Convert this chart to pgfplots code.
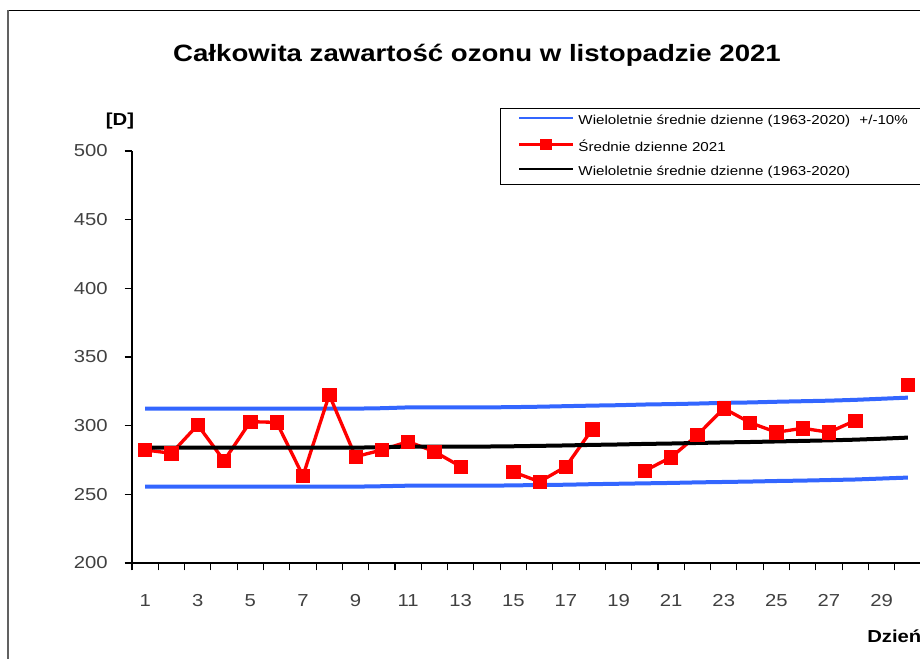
\documentclass[border=0pt]{standalone}
\usepackage{fontspec}
\setmainfont{Liberation Sans}[FakeStretch=1.17]
\usepackage{pgfplots}
\usepackage{pgfplotstable}
\pgfplotsset{compat=1.18}
\definecolor{bandblue}{RGB}{51,102,255}

% long-term daily means (1963-2020) and +/-10% band
\pgfplotstableread{
day mean upper lower
1 284.0 312.4 255.6
2 284.0 312.4 255.6
3 284.0 312.4 255.6
4 284.0 312.4 255.6
5 284.0 312.4 255.6
6 284.0 312.4 255.6
7 284.0 312.4 255.6
8 284.0 312.4 255.6
9 284.0 312.4 255.6
10 284.3 312.7 255.9
11 284.8 313.3 256.3
12 284.8 313.3 256.3
13 284.8 313.3 256.3
14 284.8 313.3 256.3
15 285.0 313.5 256.5
16 285.3 313.8 256.8
17 285.6 314.2 257.0
18 286.0 314.6 257.4
19 286.3 314.9 257.7
20 286.7 315.4 258.0
21 287.0 315.7 258.3
22 287.4 316.1 258.7
23 287.8 316.6 259.0
24 288.1 316.9 259.3
25 288.5 317.4 259.7
26 288.9 317.8 260.0
27 289.3 318.2 260.4
28 289.8 318.8 260.8
29 290.5 319.6 261.5
30 291.3 320.4 262.2
}\longterm

% daily means, November 2021
\pgfplotstableread{
day val
1 282.3
2 279.9
3 300.5
4 274.5
5 302.9
6 302.4
7 263.4
8 322.4
9 277.4
10 282.3
11 288.4
12 281.1
13 270.2
14 nan
15 266.2
16 259.2
17 270.2
18 297.4
19 nan
20 267.2
21 277.0
22 293.2
23 312.6
24 302.2
25 295.2
26 298.1
27 295.2
28 303.7
29 nan
30 329.6
}\daily

\begin{document}
\begin{tikzpicture}
\begin{axis}[
 scale only axis,width=591.75pt,height=309pt,
 xmin=0.5,xmax=30.5,ymin=200,ymax=500,
 axis x line*=bottom,axis y line*=left,
 axis line style={black,line width=0.8pt},
 xtick={1,3,...,29},ytick={200,250,...,500},
 minor xtick={0.5,1.5,...,30.5},minor ytick={200,250,...,500},
 major tick length=0pt,minor tick length=5.5pt,
 tick align=outside,minor tick style={black,line width=0.8pt},
 /pgf/number format/assume math mode=true,
 ticklabel style={font=\fontsize{13}{15}\selectfont,text=black!75},
 xticklabel style={anchor=base,inner sep=0pt,yshift=-33pt},
 yticklabel style={anchor=east,inner sep=0pt,xshift=-18pt},
 unbounded coords=jump,
 legend style={at={(axis description cs:0.4664,1.1044)},anchor=north west,
  draw=black,line width=0.75pt,fill=white,
  font=\fontsize{9.7}{11}\selectfont,
  inner xsep=13pt,inner ysep=5pt,row sep=8.5pt,
  nodes={inner sep=0pt,text height=7pt,text depth=2.4pt},
  /tikz/every odd column/.append style={column sep=3pt}},
 legend cell align=left,
]
\addplot[bandblue,line width=3pt,
 legend image code/.code={\draw[bandblue,line width=1.5pt] (0pt,2.6pt) -- (40.5pt,2.6pt);}]
 table[x=day,y=upper]{\longterm};
\addlegendentry{Wieloletnie średnie dzienne (1963-2020)\hspace{7pt}+/-10\%}
\addplot[bandblue,line width=3pt,forget plot] table[x=day,y=lower]{\longterm};
\addplot[red,line width=2.5pt,mark=square*,mark size=5pt,mark options={solid,line width=0.5pt},
 legend image code/.code={\draw[red,line width=2pt] (0pt,2.6pt) -- (40.5pt,2.6pt);
  \fill[red] (17.25pt,-0.4pt) rectangle (23.25pt,5.6pt);}]
 table[x=day,y=val]{\daily};
\addlegendentry{Średnie dzienne 2021}
\addplot[black,line width=3pt,
 legend image code/.code={\draw[black,line width=1.5pt] (0pt,2.6pt) -- (40.5pt,2.6pt);}]
 table[x=day,y=mean]{\longterm};
\addlegendentry{Wieloletnie średnie dzienne (1963-2020)}
\end{axis}
\begin{scope}[x=0.75pt,y=0.75pt]
\draw[black,line width=0.75pt] (-124,552) -- (1000,552);
\draw[black!62,line width=2.2pt] (-124,552.7) -- (-124,-200);
\node[font=\fontsize{17.7}{20}\selectfont\bfseries] at (345,508) {Całkowita zawartość ozonu w listopadzie 2021};
\node[font=\fontsize{13}{15}\selectfont\bfseries] at (-12,442) {[D]};
\node[anchor=west,inner sep=0pt,font=\fontsize{13}{15}\selectfont\bfseries] at (735,-73) {Dzień};
\pgfresetboundingbox
\path[use as bounding box] (-132,-96) rectangle (788,563);
\end{scope}
\end{tikzpicture}
\end{document}
